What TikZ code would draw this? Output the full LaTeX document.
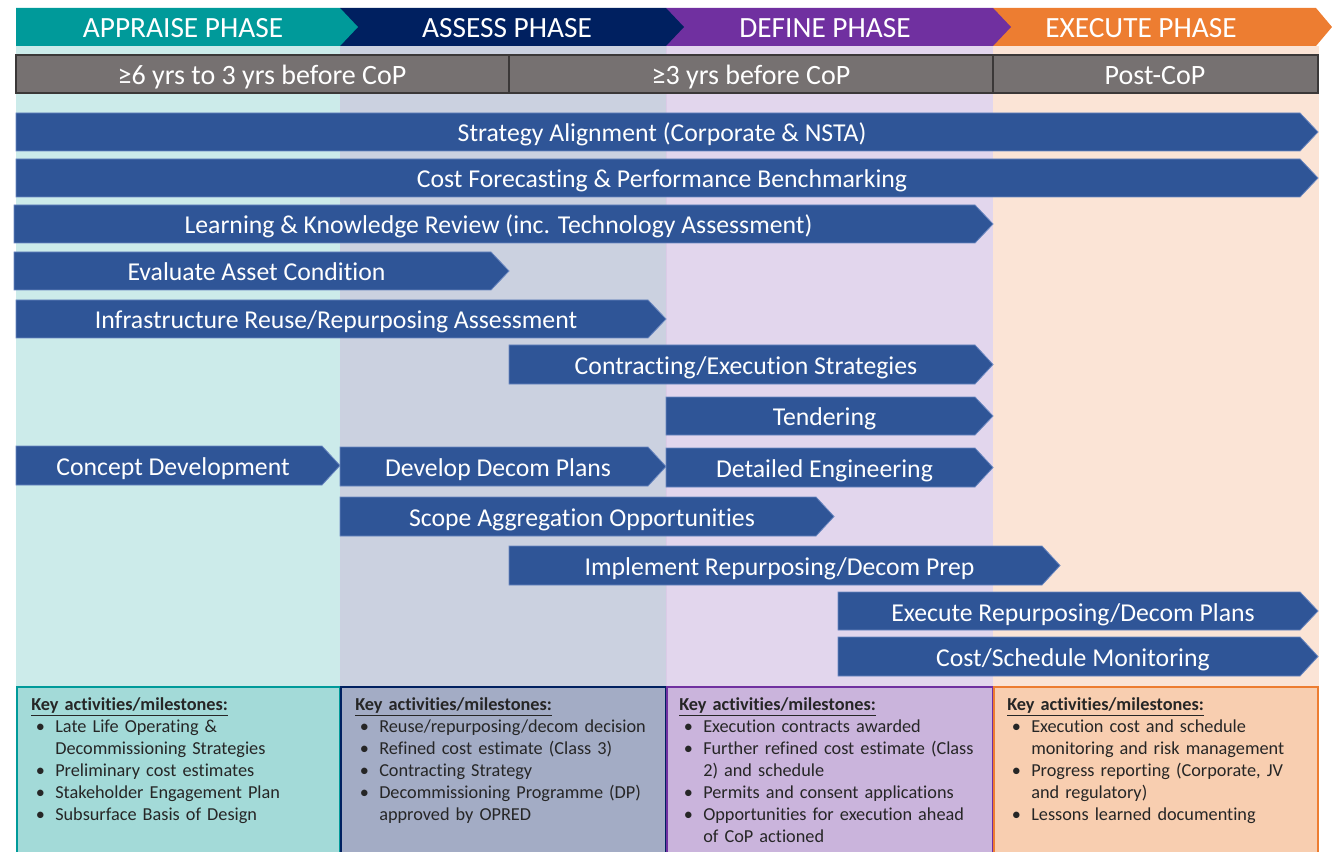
\documentclass[tikz,border=0pt]{standalone}
\usepackage{fontspec}
\setmainfont{Carlito}[Ligatures=NoCommon]
\definecolor{tealH}{HTML}{009A9A}
\definecolor{navyH}{HTML}{002060}
\definecolor{purpH}{HTML}{7030A0}
\definecolor{orngH}{HTML}{ED7D31}
\definecolor{bgA}{HTML}{CCEBEA}
\definecolor{bgB}{HTML}{CBD1E0}
\definecolor{bgC}{HTML}{E2D6ED}
\definecolor{bgD}{HTML}{FBE4D6}
\definecolor{boxA}{HTML}{A3DAD8}
\definecolor{boxB}{HTML}{A3ACC5}
\definecolor{boxC}{HTML}{CAB4DC}
\definecolor{boxD}{HTML}{F8CEB0}
\definecolor{grayT}{HTML}{767171}
\definecolor{grayB}{HTML}{3B3838}
\definecolor{arrB}{HTML}{2F5597}
\definecolor{arrE}{HTML}{6A87C0}
\definecolor{txtK}{HTML}{262626}
\tikzset{
  arrowfill/.style={fill=arrB, draw=arrE, line width=0.6pt},
  arrowtxt/.style={text=white, font=\fontsize{19.3}{22}\selectfont, inner sep=0pt, anchor=base},
  phasetxt/.style={text=white, font=\fontsize{22}{26}\selectfont, inner sep=0pt, anchor=base},
  timebox/.style={fill=grayT, draw=grayB, line width=1.3pt},
  timetxt/.style={text=white, font=\fontsize{21}{24}\selectfont, inner sep=0pt, anchor=base},
  keytxt/.style={text=txtK, font=\fontsize{13.7}{16.5}\selectfont, inner sep=0pt, anchor=north west, align=left, text width=300pt}
}
\newcommand\chevarrow[6]{%
  \path[arrowfill] (#2,#4) -- ({#3-18},#4) -- (#3,{(#4+#5)/2}) -- ({#3-18},#5) -- (#2,#5) -- cycle;
  \node[arrowtxt] (#1) at ({(#2+#3-18)/2+4},{(#4+#5)/2+10}) {#6};}
\newcommand\bul{\makebox[18pt][l]{\hspace{3.5pt}\textbullet}}
\newcommand\cont{\hspace*{18pt}}
\begin{document}
\begin{tikzpicture}[x=0.75pt,y=-0.75pt]
\useasboundingbox (0,0) rectangle (1332,852);
% column backgrounds
\fill[bgA] (16,46) rectangle (340,686);
\fill[bgB] (340,46) rectangle (666,686);
\fill[bgC] (666,46) rectangle (993,686);
\fill[bgD] (993,46) rectangle (1319,686);
\draw[purpH!25, line width=0.6pt] (666,46) -- (666,686);
% header chevrons (drawn right to left so points overlap)
\fill[orngH] (993,8) -- (1316,8) -- (1332,27) -- (1316,46) -- (993,46) -- cycle;
\fill[purpH] (666,8) -- (993,8) -- (1011,27) -- (993,46) -- (666,46) -- cycle;
\fill[navyH] (340,8) -- (666,8) -- (684,27) -- (666,46) -- (340,46) -- cycle;
\fill[tealH] (16,8) -- (340,8) -- (358,27) -- (340,46) -- (16,46) -- cycle;
\node[phasetxt] (pA) at (183,37.5) {APPRAISE PHASE};
\node[phasetxt] (pB) at (507,37.5) {ASSESS PHASE};
\node[phasetxt] (pC) at (825,37.5) {DEFINE PHASE};
\node[phasetxt] (pD) at (1141,37.5) {EXECUTE PHASE};
% time row
\draw[timebox] (16,55) rectangle (509,93);
\draw[timebox] (509,55) rectangle (993,93);
\draw[timebox] (993,55) rectangle (1318,93);
\node[timetxt] (t1) at (262,84.5) {≥6 yrs to 3 yrs before CoP};
\node[timetxt] (t2) at (751,84.5) {≥3 yrs before CoP};
\node[timetxt] (t3) at (1155,84.5) {Post-CoP};
% activity arrows
\chevarrow{sa}{16}{1318}{113}{151}{Strategy Alignment (Corporate \& NSTA)}
\chevarrow{cf}{16}{1318}{159}{197}{Cost Forecasting \& Performance Benchmarking}
\chevarrow{lk}{14}{993}{205}{243}{Learning \& Knowledge Review (inc. Technology Assessment)}
\chevarrow{ea}{14}{509}{252}{290}{Evaluate Asset Condition}
\chevarrow{ir}{16}{666}{300}{338}{Infrastructure Reuse/Repurposing Assessment}
\chevarrow{ce}{509}{993}{345}{384}{Contracting/Execution Strategies}
\chevarrow{te}{666}{993}{397}{435}{Tendering}
\chevarrow{cd}{16}{340}{446}{485}{Concept Development}
\chevarrow{dd}{340}{666}{447}{486}{Develop Decom Plans}
\chevarrow{de}{666}{993}{448}{487}{Detailed Engineering}
\chevarrow{sg}{340}{834}{497}{536}{Scope Aggregation Opportunities}
\chevarrow{ip}{509}{1060}{546}{585}{Implement Repurposing/Decom Prep}
\chevarrow{ex}{838}{1318}{592}{630}{Execute Repurposing/Decom Plans}
\chevarrow{cs}{838}{1318}{637}{676}{Cost/Schedule Monitoring}
% bottom key boxes
\fill[boxA] (16,686) rectangle (340,852);
\fill[boxB] (340,686) rectangle (666,852);
\fill[boxC] (666,686) rectangle (993,852);
\fill[boxD] (993,686) rectangle (1318,852);
\draw[tealH, line width=1.5pt] (17,853) -- (17,687) -- (340,687) -- (340,853);
\draw[navyH, line width=1.5pt] (341,853) -- (341,687) -- (666,687) -- (666,853);
\draw[purpH, line width=1.5pt] (667,853) -- (667,687) -- (993,687) -- (993,853);
\draw[orngH, line width=1.5pt] (994,853) -- (994,687) -- (1318,687) -- (1318,853);
\node[keytxt] (kA) at (31,697) {\textbf{\underline{Key activities/milestones:}}\\
\bul Late Life Operating \&\\
\cont Decommissioning Strategies\\
\bul Preliminary cost estimates\\
\bul Stakeholder Engagement Plan\\
\bul Subsurface Basis of Design};
\node[keytxt] (kB) at (355,697) {\textbf{\underline{Key activities/milestones:}}\\
\bul Reuse/repurposing/decom decision\\
\bul Refined cost estimate (Class 3)\\
\bul Contracting Strategy\\
\bul Decommissioning Programme (DP)\\
\cont approved by OPRED};
\node[keytxt] (kC) at (679,697) {\textbf{\underline{Key activities/milestones:}}\\
\bul Execution contracts awarded\\
\bul Further refined cost estimate (Class\\
\cont 2) and schedule\\
\bul Permits and consent applications\\
\bul Opportunities for execution ahead\\
\cont of CoP actioned};
\node[keytxt] (kD) at (1007,697) {\textbf{\underline{Key activities/milestones:}}\\
\bul Execution cost and schedule\\
\cont monitoring and risk management\\
\bul Progress reporting (Corporate, JV\\
\cont and regulatory)\\
\bul Lessons learned documenting};
\end{tikzpicture}
\end{document}
